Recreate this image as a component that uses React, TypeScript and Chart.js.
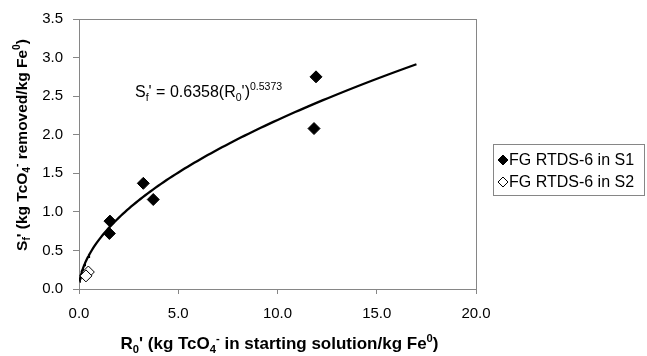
import React, { useEffect, useRef } from "react";
import { Chart, registerables } from "chart.js";

Chart.register(...registerables);

// Data
const s1X = [3.24, 3.74, 1.56, 1.53, 11.94, 11.84];
const s1Y = [1.37, 1.16, 0.88, 0.72, 2.75, 2.08];
const s2X = [0.47, 0.35];
const s2Y = [0.22, 0.17];
const seriesNames = ["FG RTDS-6 in S1", "FG RTDS-6 in S2"];

// Power trendline shown on chart: Sf' = 0.6358 (R0')^0.5373
const fitCoef = 0.6358;
const fitExp = 0.5373;
const fitStart = 0.03;
const fitEnd = 17;

const xTicks = [0, 5, 10, 15, 20];
const yTicks = [0, 0.5, 1, 1.5, 2, 2.5, 3, 3.5];

const FONT = '"Liberation Sans", Arial, Helvetica, sans-serif';
const GRAY = "#868686";

type Seg = { t: string; s?: "sub" | "sup" };

function drawRich(
  ctx: CanvasRenderingContext2D,
  segs: Seg[],
  x: number,
  y: number,
  size: number,
  bold: boolean,
  align: "left" | "center"
) {
  const f = (sz: number) => `${bold ? "bold " : ""}${sz}px ${FONT}`;
  const small = size * 0.66;
  let w = 0;
  for (const sg of segs) {
    ctx.font = f(sg.s ? small : size);
    w += ctx.measureText(sg.t).width;
  }
  let cx = align === "center" ? x - w / 2 : x;
  ctx.textAlign = "left";
  ctx.textBaseline = "alphabetic";
  ctx.fillStyle = "#000";
  for (const sg of segs) {
    ctx.font = f(sg.s ? small : size);
    const dy = sg.s === "sub" ? size * 0.22 : sg.s === "sup" ? -size * 0.42 : 0;
    ctx.fillText(sg.t, cx, y + dy);
    cx += ctx.measureText(sg.t).width;
  }
}

const xTitle: Seg[] = [
  { t: "R" },
  { t: "0", s: "sub" },
  { t: "' (kg TcO" },
  { t: "4", s: "sub" },
  { t: "-", s: "sup" },
  { t: " in starting solution/kg Fe" },
  { t: "0", s: "sup" },
  { t: ")" },
];
const yTitle: Seg[] = [
  { t: "S" },
  { t: "f", s: "sub" },
  { t: "' (kg TcO" },
  { t: "4", s: "sub" },
  { t: "-", s: "sup" },
  { t: " removed/kg Fe" },
  { t: "0", s: "sup" },
  { t: ")" },
];
const eqText: Seg[] = [
  { t: "S" },
  { t: "f", s: "sub" },
  { t: "' = " + fitCoef.toFixed(4) + "(R" },
  { t: "0", s: "sub" },
  { t: "')" },
  { t: fitExp.toFixed(4), s: "sup" },
];

function diamond(ctx: CanvasRenderingContext2D, x: number, y: number, r: number, filled: boolean) {
  ctx.beginPath();
  ctx.moveTo(x, y - r);
  ctx.lineTo(x + r, y);
  ctx.lineTo(x, y + r);
  ctx.lineTo(x - r, y);
  ctx.closePath();
  ctx.fillStyle = filled ? "#000" : "#fff";
  ctx.fill();
  ctx.strokeStyle = "#000";
  ctx.lineWidth = 1;
  ctx.stroke();
}

const decorPlugin = {
  id: "decor",
  beforeDatasetsDraw(chart: any) {
    const { ctx, chartArea: a } = chart;
    ctx.save();
    ctx.strokeStyle = GRAY;
    ctx.lineWidth = 1;
    ctx.strokeRect(Math.round(a.left) + 0.5, Math.round(a.top) + 0.5, Math.round(a.right - a.left), Math.round(a.bottom - a.top));
    ctx.restore();
  },
  afterDraw(chart: any) {
    const { ctx, chartArea: a } = chart;
    ctx.save();
    drawRich(ctx, xTitle, (a.left + a.right) / 2 + 2, 349, 17, true, "center");
    ctx.save();
    ctx.translate(27, 145);
    ctx.rotate(-Math.PI / 2);
    drawRich(ctx, yTitle, 0, 0, 15.5, true, "center");
    ctx.restore();
    drawRich(ctx, eqText, 135, 97, 16, false, "left");
    ctx.strokeStyle = GRAY;
    ctx.lineWidth = 1;
    ctx.strokeRect(493.5, 144.5, 151, 51);
    const rows = [160, 182];
    seriesNames.forEach((n, i) => {
      diamond(ctx, 503, rows[i], 5, i === 0);
      ctx.fillStyle = "#000";
      ctx.font = `16px ${FONT}`;
      ctx.textAlign = "left";
      ctx.textBaseline = "middle";
      ctx.fillText(n, 509, rows[i] + 1);
    });
    ctx.restore();
  },
};

export default function App() {
  const ref = useRef<HTMLCanvasElement | null>(null);
  useEffect(() => {
    document.body.style.margin = "0";
    const canvas = ref.current!;
    const fit: { x: number; y: number }[] = [];
    const n = 120;
    for (let i = 0; i <= n; i++) {
      const t = i / n;
      const x = fitStart + (fitEnd - fitStart) * t * t;
      fit.push({ x, y: fitCoef * Math.pow(x, fitExp) });
    }
    const chart = new Chart(canvas, {
      type: "scatter",
      data: {
        datasets: [
          {
            label: seriesNames[0],
            data: s1X.map((x, i) => ({ x, y: s1Y[i] })),
            pointStyle: "rectRot",
            pointRadius: 6,
            backgroundColor: "#000",
            borderColor: "#000",
            borderWidth: 1,
            order: 1,
          },
          {
            label: seriesNames[1],
            data: s2X.map((x, i) => ({ x, y: s2Y[i] })),
            pointStyle: "rectRot",
            pointRadius: 6,
            backgroundColor: "#fff",
            borderColor: "#000",
            borderWidth: 1,
            order: 0,
          },
          {
            label: "fit",
            type: "line",
            data: fit,
            showLine: true,
            borderColor: "#000",
            borderWidth: 2.3,
            pointRadius: 0,
            fill: false,
            tension: 0,
            order: 2,
          } as any,
        ],
      },
      options: {
        responsive: false,
        animation: false,
        events: [],
        layout: { padding: { top: 17, right: 171, left: 0, bottom: 0 } },
        plugins: { legend: { display: false }, tooltip: { enabled: false }, title: { display: false } },
        scales: {
          x: {
            type: "linear",
            min: 0,
            max: 20,
            afterBuildTicks: (s: any) => {
              s.ticks = xTicks.map((v) => ({ value: v }));
            },
            afterFit: (s: any) => {
              s.height = 67;
            },
            ticks: {
              color: "#000",
              font: { family: FONT, size: 15 },
              padding: 11,
              maxRotation: 0,
              callback: (v: any) => Number(v).toFixed(1),
            },
            grid: { display: true, drawOnChartArea: false, drawTicks: true, tickLength: 5, color: GRAY },
            border: { display: false },
          },
          y: {
            type: "linear",
            min: 0,
            max: 3.5,
            afterBuildTicks: (s: any) => {
              s.ticks = yTicks.map((v) => ({ value: v }));
            },
            afterFit: (s: any) => {
              s.width = 79;
            },
            ticks: {
              color: "#000",
              font: { family: FONT, size: 15 },
              padding: 10,
              callback: (v: any) => Number(v).toFixed(1),
            },
            grid: { display: true, drawOnChartArea: false, drawTicks: true, tickLength: 6, color: GRAY },
            border: { display: false },
          },
        },
      },
      plugins: [decorPlugin],
    });
    return () => chart.destroy();
  }, []);
  return <canvas ref={ref} width={647} height={356} style={{ display: "block" }} />;
}
